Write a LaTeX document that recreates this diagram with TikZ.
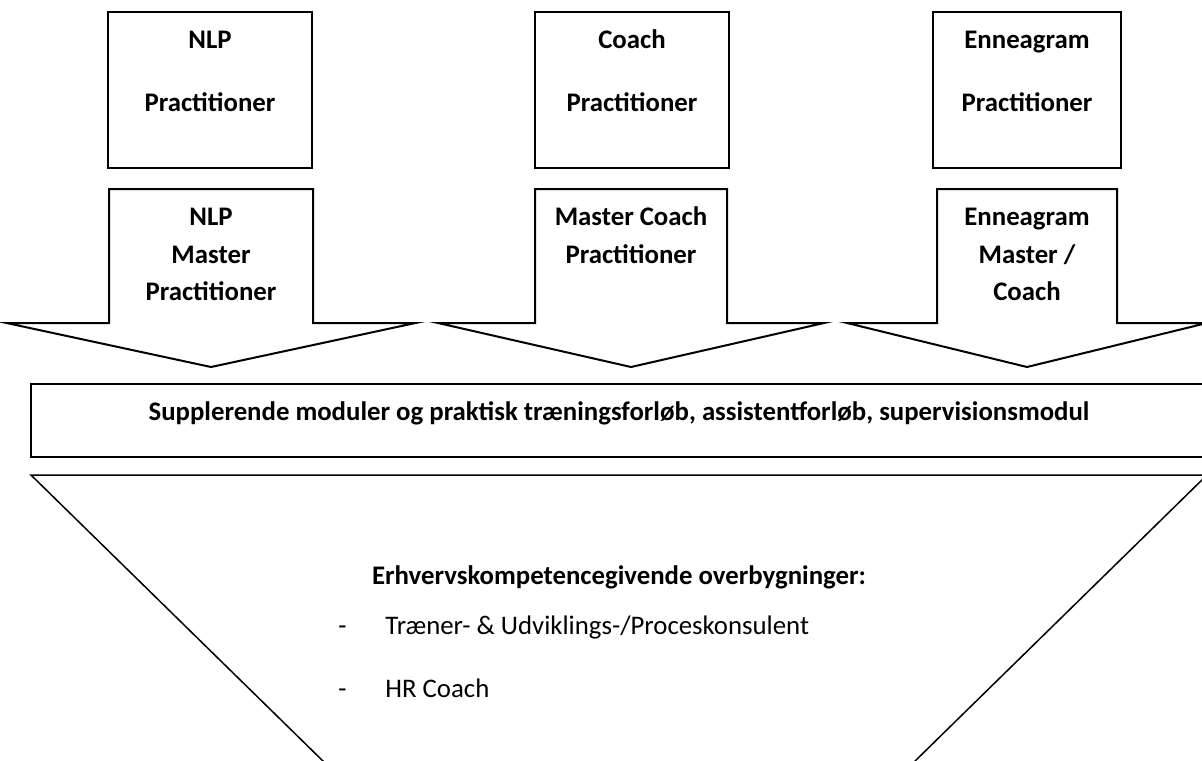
\documentclass[tikz,border=0pt]{standalone}
\usepackage{fontspec}
\setmainfont{Carlito}
\usetikzlibrary{positioning}

\begin{document}
\begin{tikzpicture}[x=0.5pt, y=-0.5pt, font=\fontsize{13.4}{18.75}\selectfont]
	\tikzset	{
		coursebox/.style={draw, line width=1pt, minimum height=78pt, inner sep=0pt},
		boxtxt/.style={align=center, font=\fontsize{13.4}{18.75}\selectfont\bfseries},
		itemtxt/.style={anchor=base west, inner sep=0pt, font=\fontsize{13.4}{18.75}\selectfont},
	}
	\tikzset	{
		downarrow/.pic={
			code={
				\draw[line width=1pt]	(-\Sw,189) -- (-\Sw,323) -- (-\Ww,323) -- (0,367)
					-- (\Ww,323) -- (\Sw,323) -- (\Sw,189) -- cycle;
			}
		},
	}
	\fill[white] (0,0) rectangle (1202,760);
	\useasboundingbox (0,0) rectangle (1202,760);
	\clip (0,0) rectangle (1202,760);

	% top row
	\node[coursebox, minimum width=102pt] (nlp) at (210,90) {};
	\node[boxtxt] (nlptxt) at (210,72.5) {\strut NLP\\[12.75pt]Practitioner\strut};

	\node[coursebox, minimum width=97pt] (coach) at (632,90) {};
	\node[boxtxt] (coachtxt) at (632,72.5) {\strut Coach\\[12.75pt]Practitioner\strut};

	\node[coursebox, minimum width=94pt] (ennea) at (1027,90) {};
	\node[boxtxt] (enneatxt) at (1027,72.5) {\strut Enneagram\\[12.75pt]Practitioner\strut};

	% arrows
\begin{scope}[shift={(211,0)}]
	\def\Sw{102}
	\def\Ww{204.5}
	\pic[] at (0,0) {downarrow};
	\node[boxtxt] (nlpmaster) at (0,255.5) {\strut NLP\\Master\\Practitioner\strut};
\end{scope}

\begin{scope}[shift={(631,0)}]
	\def\Sw{96}
	\def\Ww{193}
	\pic[] at (0,0) {downarrow};
	\node[boxtxt] (coachmaster) at (0,236.75) {\strut Master Coach\\Practitioner\strut};
\end{scope}

\begin{scope}[shift={(1027,0)}]
	\def\Sw{90}
	\def\Ww{180}
	\pic[] at (0,0) {downarrow};
	\node[boxtxt] (enneamaster) at (0,255.5) {\strut Enneagram\\Master /\\Coach\strut};
\end{scope}

	% banner
	\node[draw, line width=1pt, minimum width=588pt, minimum height=36.5pt, inner sep=0pt] (modules) at (619,420.5) {};
	\node[boxtxt] (modtxt) at (619,413) {Supplerende moduler og praktisk træningsforløb, assistentforløb, supervisionsmodul};

	% funnel
	\draw[line width=0.75pt] (31,475) -- (1207,475) -- (619,1051) -- cycle;
	\node[boxtxt] (title) at (619,577) {Erhvervskompetencegivende overbygninger:};
	\node[itemtxt] (dasha) at (338,634.5) {-};
	\node[itemtxt] (itema) at (385,634.5) {Træner- \& Udviklings-/Proceskonsulent};
	\node[itemtxt] (dashb) at (338,697.5) {-};
	\node[itemtxt] (itemb) at (385,697.5) {HR Coach};
\end{tikzpicture}
\end{document}
